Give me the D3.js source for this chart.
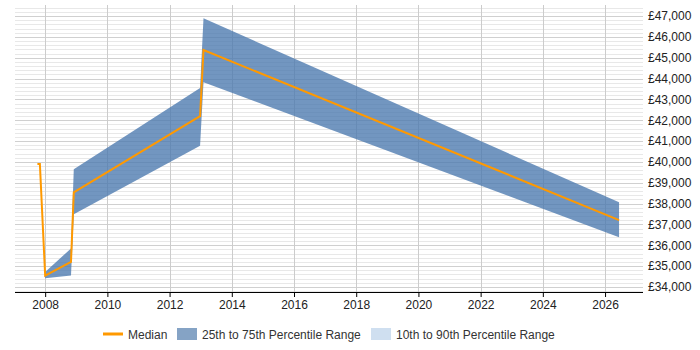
<!DOCTYPE html>
<html>
<head>
<meta charset="utf-8">
<script src="https://cdn.jsdelivr.net/npm/d3@7"></script>
<style>
    body { margin: 0; background: #fff; font-family: "Liberation Sans", Arial, sans-serif; }
    text { fill: #333; font-size: 12px; }
</style>
</head>
<body>
<div id="chart"></div>
<script>
// dates as decimal years
const dates = [2007.75, 2007.83, 2008.0, 2008.83, 2008.92, 2012.98, 2013.09, 2026.45];
const median = [39900, 39900, 34540, 35200, 38540, 42200, 45370, 37210];
const p25 = [null, null, 34420, 34550, 37490, 40780, 43820, 36390];
const p75 = [null, null, 34720, 35850, 39650, 43550, 46890, 38060];
const yTicks = [34000, 35000, 36000, 37000, 38000, 39000, 40000, 41000, 42000, 43000, 44000, 45000, 46000, 47000];
const xTicks = [2008, 2010, 2012, 2014, 2016, 2018, 2020, 2022, 2024, 2026];
const legendItems = ["Median", "25th to 75th Percentile Range", "10th to 90th Percentile Range"];

const width = 700, height = 350;
const pLeft = 15, pRight = 643, pTop = 5, pBottom = 292;

const svg = d3.select("#chart").append("svg")
    .attr("width", width)
    .attr("height", height);

const x = d3.scaleLinear().domain([2007.03, 2027.22]).range([pLeft, pRight]);
const y = d3.scaleLinear().domain([33760, 47528]).range([pBottom, pTop]);

// minor + major horizontal grid
const minor = d3.range(33800, 47600, 200).filter(v => v % 1000 !== 0);
svg.append("g").selectAll("line")
    .data(minor)
    .enter().append("line")
    .attr("x1", pLeft).attr("x2", pRight)
    .attr("y1", d => Math.round(y(d)) + 0.5).attr("y2", d => Math.round(y(d)) + 0.5)
    .attr("stroke", "#e8e8e8");

svg.append("g").selectAll("line")
    .data(yTicks)
    .enter().append("line")
    .attr("x1", pLeft).attr("x2", pRight)
    .attr("y1", d => Math.round(y(d)) + 0.5).attr("y2", d => Math.round(y(d)) + 0.5)
    .attr("stroke", "#d0d0d0");

// vertical grid
svg.append("g").selectAll("line")
    .data(xTicks)
    .enter().append("line")
    .attr("x1", d => Math.round(x(d)) + 0.5).attr("x2", d => Math.round(x(d)) + 0.5)
    .attr("y1", pTop).attr("y2", pBottom)
    .attr("stroke", "#cccccc");

const rows = dates.map((d, i) => ({ t: d, m: median[i], lo: p25[i], hi: p75[i] }));

const area = d3.area()
    .defined(d => d.lo !== null)
    .x(d => x(d.t))
    .y0(d => y(d.lo))
    .y1(d => y(d.hi));

svg.append("path")
    .datum(rows)
    .attr("d", area)
    .attr("fill", "#4a79ae")
    .attr("fill-opacity", 0.78);

const line = d3.line()
    .x(d => x(d.t))
    .y(d => y(d.m));

svg.append("path")
    .datum(rows)
    .attr("d", line)
    .attr("fill", "none")
    .attr("stroke", "#ff9900")
    .attr("stroke-width", 2);

// x axis
const xAxis = svg.append("g")
    .attr("transform", `translate(0,${pBottom})`)
    .call(d3.axisBottom(x).tickValues(xTicks).tickFormat(d3.format("d")).tickSize(5).tickPadding(3));
xAxis.select(".domain").attr("stroke", "#000").attr("d", `M${pLeft},0.5H${pRight}`);
xAxis.selectAll(".tick line").attr("stroke", "#000");
xAxis.selectAll("text").attr("font-size", 12).attr("font-family", "Liberation Sans, Arial, sans-serif").style("fill", "#222");

// y axis labels on right
const yAxis = svg.append("g")
    .attr("transform", `translate(${pRight},0)`)
    .call(d3.axisRight(y).tickValues(yTicks).tickFormat(d => "£" + d3.format(",")(d)).tickSize(0).tickPadding(5));
yAxis.select(".domain").remove();
yAxis.selectAll("text").attr("font-size", 12).attr("font-family", "Liberation Sans, Arial, sans-serif").style("fill", "#222");

// legend
const lg = svg.append("g").attr("transform", "translate(0,334)");
lg.append("line").attr("x1", 103).attr("x2", 123).attr("y1", 0).attr("y2", 0)
    .attr("stroke", "#ff9900").attr("stroke-width", 3);
lg.append("text").attr("x", 128).attr("y", 4.5).text(legendItems[0]);
lg.append("rect").attr("x", 177).attr("y", -6).attr("width", 20).attr("height", 12).attr("fill", "#85a3c5");
lg.append("text").attr("x", 202).attr("y", 4.5).text(legendItems[1]);
lg.append("rect").attr("x", 371).attr("y", -6).attr("width", 20).attr("height", 12).attr("fill", "#cfdff0");
lg.append("text").attr("x", 396).attr("y", 4.5).text(legendItems[2]);
</script>
</body>
</html>
